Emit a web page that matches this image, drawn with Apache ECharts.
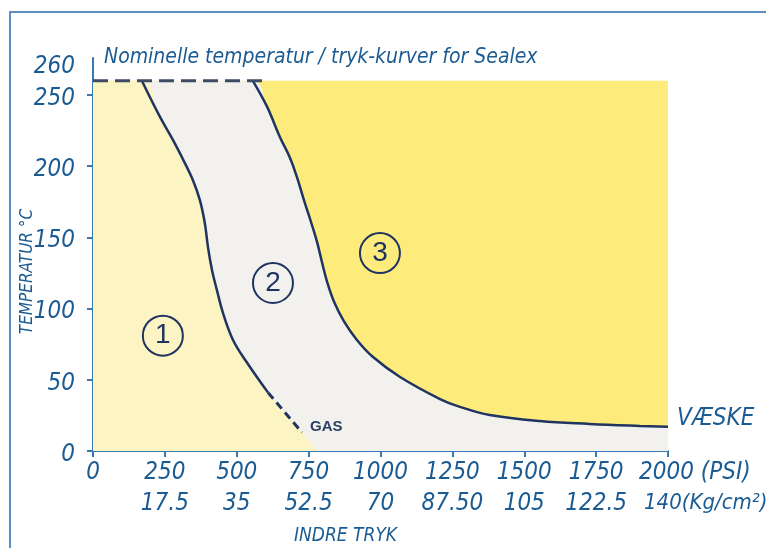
<!DOCTYPE html>
<html>
<head>
<meta charset="utf-8">
<title>Sealex</title>
<script src="https://cdn.jsdelivr.net/npm/echarts@6.0.0/dist/echarts.min.js"></script>
<style>
html, body { margin: 0; padding: 0; background: #fff; }
#chart { width: 766px; height: 548px; }
</style>
</head>
<body>
<div id="chart"></div>
<script>
// axis ticks / labels
var psiTicks = [0, 250, 500, 750, 1000, 1250, 1500, 1750, 2000];
var kgLabels = ['', '17.5', '35', '52.5', '70', '87.50', '105', '122.5', '140'];
var tempTicks = [0, 50, 100, 150, 200, 250];
var tempLabels = [0, 50, 100, 150, 200, 250, 260];

// max temperature line (dashed)
var maxTemp = 260;
var maxTempLine = [[0, 260], [598, 260]];

// curve between zone 1 and zone 2
var curve1 = [[170, 260], [233, 234.6], [278, 218.5], [320, 202], [348, 190], [372, 176], [389, 160],
              [400, 143], [414, 127], [431, 113], [452, 97], [487, 78], [536, 62], [609, 41]];
var curve1Gas = [[609, 41], [727, 13]];
var zone1Edge = [[779, 0]];

// curve between zone 2 and zone 3
var curve2 = [[556, 260], [605, 242], [650, 220.5], [685, 206], [710, 192], [734, 176], [758, 161],
              [779, 147], [796, 133], [814, 119], [838, 105], [873, 91], [918, 78], [974, 66],
              [1068, 52], [1207, 36.5], [1276, 31], [1380, 25.3], [1554, 21], [1728, 19],
              [1902, 17.6], [2000, 17]];

// zone numbers
var zoneNames = ['1', '2', '3'];
var zonePos = [[243, 81], [626, 118], [998, 139]];

var FONT = "'Liberation Sans Narrow', 'DejaVu Sans Condensed', 'Liberation Sans', sans-serif";
var BLUE = '#1b5b93';
var AXIS = '#3a78b0';
var NAVY = '#1f3461';

var chart = echarts.init(document.getElementById('chart'));

var zone3Fill = [[0, maxTemp], [2000, maxTemp]];
var zone2Fill = [[0, maxTemp]].concat(curve2);
var zone1Fill = [[0, maxTemp]].concat(curve1, curve1Gas.slice(1), zone1Edge);

function fill(data, color) {
    return {
        type: 'line', data: data, smooth: 0.4, showSymbol: false, silent: true,
        lineStyle: { opacity: 0 },
        areaStyle: { color: color, opacity: 1 }
    };
}

var labelFont = { fontSize: 24, fontStyle: 'italic', fontFamily: FONT, color: BLUE, lineHeight: 31 };

chart.setOption({
    animation: false,
    title: {
        text: 'Nominelle temperatur / tryk-kurver for Sealex',
        left: 99, top: 42,
        textStyle: { fontFamily: FONT, fontStyle: 'italic', fontWeight: 'normal', fontSize: 21, color: BLUE }
    },
    graphic: [{
        type: 'polyline',
        shape: { points: [[10, 560], [10, 12], [790, 12]] },
        style: { stroke: '#5a8fc0', lineWidth: 2, fill: null }
    }],
    grid: { left: 93, right: 98, top: 58, bottom: 97, outerBoundsMode: 'none' },
    xAxis: {
        type: 'value', min: 0, max: 2000, interval: 250,
        splitLine: { show: false },
        axisLine: { show: true, lineStyle: { color: AXIS, width: 2 } },
        axisTick: { show: true, length: 6, lineStyle: { color: AXIS, width: 2 } },
        axisLabel: Object.assign({
            margin: 6, showMinLabel: true, showMaxLabel: true, hideOverlap: false,
            formatter: function (v) {
                var i = psiTicks.indexOf(v);
                if (i < 0) return '';
                if (i === 0) return String(v);
                if (i === psiTicks.length - 1) {
                    return '{a|' + v + ' (PSI)}\n{b|' + kgLabels[i] + '(Kg/cm²)}';
                }
                return v + '\n' + kgLabels[i];
            },
            rich: {
                a: Object.assign({}, labelFont, { width: 58, align: 'left' }),
                b: Object.assign({}, labelFont, { fontSize: 22, width: 52, align: 'left', padding: [0, 0, 0, 5] })
            }
        }, labelFont),
        name: 'INDRE TRYK', nameLocation: 'middle', nameGap: 76,
        nameTextStyle: { fontFamily: FONT, fontStyle: 'italic', fontSize: 19, color: BLUE, padding: [0, 70, 0, 0] }
    },
    yAxis: {
        type: 'value', min: 0, max: 276,
        splitLine: { show: false },
        axisLine: { show: true, lineStyle: { color: AXIS, width: 2 } },
        axisTick: { show: true, length: 6, customValues: tempTicks, lineStyle: { color: AXIS, width: 2 } },
        axisLabel: {
            customValues: tempLabels,
            margin: 18, color: BLUE, fontSize: 24, fontStyle: 'italic', fontFamily: FONT,
            padding: [7, 0, 0, 0],
            formatter: function (v) { return v === 260 ? '{top|260}' : String(v); },
            rich: {
                top: { fontSize: 24, fontStyle: 'italic', fontFamily: FONT, color: BLUE, padding: [0, 0, 36, 0] }
            }
        },
        name: 'TEMPERATUR °C', nameLocation: 'middle', nameRotate: 90, nameGap: 57,
        nameMoveOverlap: false,
        nameTextStyle: { fontFamily: FONT, fontStyle: 'italic', fontSize: 17, color: BLUE, padding: [0, 34, 0, 0] }
    },
    series: [
        fill(zone3Fill, '#fdec7b'),
        fill(zone2Fill, '#f2f1ee'),
        fill(zone1Fill, '#fdf4c3'),
        {
            type: 'line', data: curve1, smooth: 0.4, showSymbol: false, silent: true,
            lineStyle: { color: NAVY, width: 2.5 }
        },
        {
            type: 'line', data: curve1Gas, showSymbol: false, silent: true,
            lineStyle: { color: NAVY, width: 3, type: [8, 5] },
            endLabel: {
                show: true, formatter: 'GAS', distance: 8, offset: [0, -6],
                fontFamily: 'Liberation Sans', fontWeight: 'bold', fontSize: 15, color: '#2a3f66'
            }
        },
        {
            type: 'line', data: curve2, smooth: 0.4, showSymbol: false, silent: true,
            lineStyle: { color: NAVY, width: 2.5 },
            endLabel: {
                show: true, formatter: 'VÆSKE', distance: 9, offset: [0, -8],
                fontFamily: FONT, fontStyle: 'italic', fontSize: 24, color: BLUE
            }
        },
        {
            type: 'line', data: maxTempLine, showSymbol: false, silent: true,
            lineStyle: { color: '#3d4a66', width: 3, type: [15, 7] }
        },
        {
            type: 'scatter', silent: true, z: 5, symbol: 'circle', symbolSize: 40,
            data: zonePos,
            itemStyle: { color: 'transparent', borderColor: NAVY, borderWidth: 2, opacity: 1 },
            label: {
                show: true, position: 'inside',
                formatter: function (p) { return zoneNames[p.dataIndex]; },
                fontFamily: 'Liberation Sans', fontSize: 28, color: NAVY
            }
        }
    ]
});
</script>
</body>
</html>
